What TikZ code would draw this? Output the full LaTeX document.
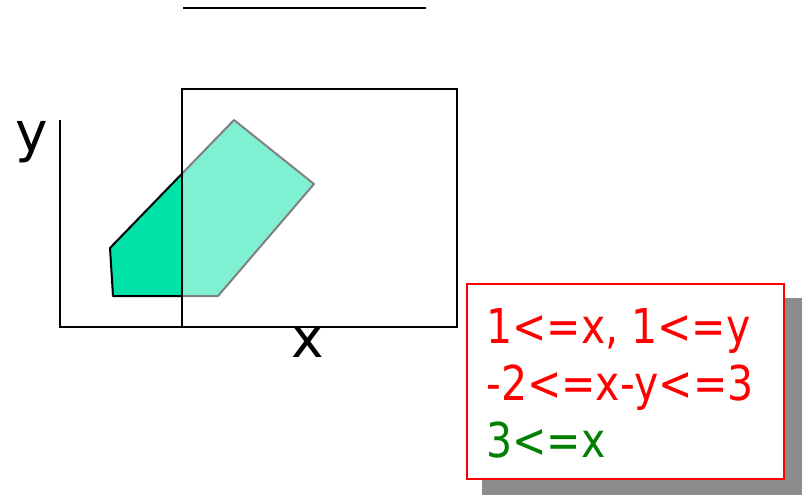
\documentclass[tikz,border=0pt]{standalone}
\usepackage{fontspec}
\setmainfont{DejaVu Sans}
\newfontfamily\consfont[FakeStretch=0.855]{DejaVu Sans}
\usepackage{xcolor}
\usetikzlibrary{calc}
\definecolor{regionG}{HTML}{00E2A8}
\definecolor{shadowgray}{HTML}{8C8C8C}
\definecolor{consR}{HTML}{FF0000}
\definecolor{consG}{HTML}{008000}

\begin{document}
\begin{tikzpicture}[x=1pt,y=-1pt,
  cons/.style={font=\consfont\fontsize{48}{48}\selectfont,anchor=base west,inner sep=0pt},
  axislbl/.style={font=\fontsize{55}{55}\selectfont,anchor=base,inner sep=0pt}]
\useasboundingbox (0,0) rectangle (806,495);
% top rule
\draw[line width=2.5pt] (183,8)--(426,8);
% axes
\coordinate (O) at (60,327);
\draw[line width=2.5pt] (60,120)--(O)--(300,327);
\node[axislbl] (ylbl) at (32,151){y};
\node[axislbl] (xlbl) at (308,357){x};
% feasible region
\draw[fill=regionG,line width=2pt,line join=round] (110,248)--(234,120)--(314,184)--(218,296)--(113,296)--cycle;
% window, half see-through
\draw[fill=white,fill opacity=0.5,line width=2.5pt] (182,89) rectangle (457,327);
% constraint box with shadow
\fill[shadowgray] (482,298) rectangle (802,495);
\draw[consR,fill=white,line width=2.5pt] (467,284) rectangle (784,479);
\node[cons,text=consR] (c1) at (486,343){1<=x, 1<=y};
\node[cons,text=consR] (c2) at (486,400){-2<=x-y<=3};
\node[cons,text=consG] (c3) at (486,457){3<=x};
\end{tikzpicture}
\end{document}
